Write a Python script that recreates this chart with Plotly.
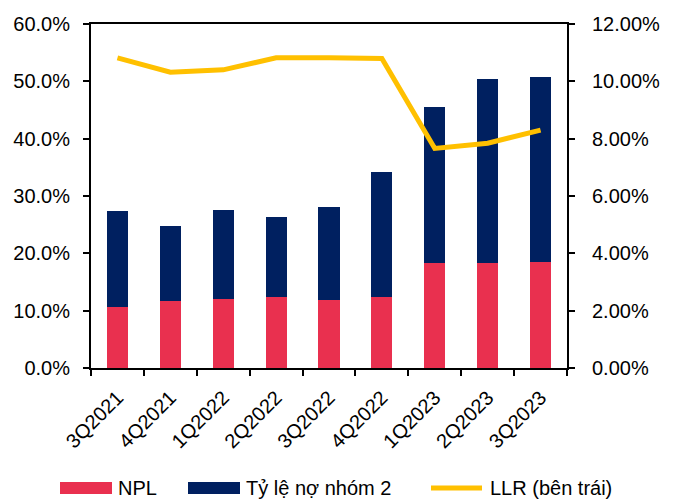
import plotly.graph_objects as go

quarters = ['3Q2021', '4Q2021', '1Q2022', '2Q2022', '3Q2022', '4Q2022', '1Q2023', '2Q2023', '3Q2023']

# right axis (0-12%)
npl = [0.0213, 0.0234, 0.0241, 0.0247, 0.0236, 0.0247, 0.0367, 0.0365, 0.0370]
group2 = [0.0335, 0.0261, 0.0309, 0.0280, 0.0326, 0.0437, 0.0542, 0.0642, 0.0645]
# left axis (0-60%)
llr = [0.541, 0.516, 0.520, 0.541, 0.541, 0.540, 0.383, 0.392, 0.415]

font_name = 'Arial, Liberation Sans, sans-serif'
red, navy, gold = '#E9304F', '#002060', '#FFC000'

# target plot area in page pixels; the page body adds an 8px offset
OFF = 8
L, R, T, B = 91, 567, 24, 368
W, H = 673, 502


def px(x):
    return (x - L) / (R - L)


def py(y):
    return (B - y) / (B - T)


fig = go.Figure()

# bars go on the first y-axis (drawn underneath), shown on the right side
fig.add_trace(go.Bar(x=quarters, y=npl, name='NPL', marker=dict(color=red, line=dict(width=0)),
                     yaxis='y'))
fig.add_trace(go.Bar(x=quarters, y=group2, name='Tỷ lệ nợ nhóm 2', marker=dict(color=navy, line=dict(width=0)),
                     yaxis='y'))
# the LLR line sits on the overlay axis so it is drawn on top, shown on the left side
fig.add_trace(go.Scatter(x=quarters, y=llr, name='LLR (bên trái)', mode='lines',
                         line=dict(color=gold, width=5), yaxis='y2'))

# legend drawn by hand to get the wide Excel-style swatches
legend_items = [
    ('NPL', 'rect', red, 60, 112),
    ('Tỷ lệ nợ nhóm 2', 'rect', navy, 188, 240),
    ('LLR (bên trái)', 'line', gold, 429, 484),
]
ly = 488
for label, kind, color, x0, x1 in legend_items:
    if kind == 'rect':
        fig.add_shape(type='rect', xref='paper', yref='paper',
                      x0=px(x0), x1=px(x1), y0=py(ly - 6), y1=py(ly + 6),
                      fillcolor=color, line=dict(width=0))
    else:
        fig.add_shape(type='line', xref='paper', yref='paper',
                      x0=px(x0 + 2), x1=px(x1 - 2), y0=py(ly), y1=py(ly),
                      line=dict(color=color, width=5))
    fig.add_annotation(text=label, xref='paper', yref='paper', x=px(x1 + 4), y=py(ly),
                       xanchor='left', yanchor='middle', showarrow=False,
                       font=dict(size=20, color='black'))

axis_common = dict(showline=True, linecolor='black', linewidth=2, ticks='outside', ticklen=6,
                   tickwidth=2, tickcolor='black', showgrid=False, zeroline=False, automargin=False)

fig.update_layout(
    width=W - OFF, height=H - OFF,
    margin=dict(l=L - OFF, r=W - R, t=T - OFF, b=H - B, pad=0),
    paper_bgcolor='white', plot_bgcolor='white',
    barmode='stack', bargap=0.6,
    font=dict(family=font_name, size=20, color='black'),
    showlegend=False,
    xaxis=dict(type='category', tickangle=-45, mirror=True, tickson='boundaries',
               ticklabelstandoff=8, **axis_common),
    yaxis=dict(side='right', range=[0, 0.12], dtick=0.02, tickformat='.2%',
               ticklabelstandoff=13, **axis_common),
    yaxis2=dict(side='left', overlaying='y', range=[0, 0.6], dtick=0.1, tickformat='.1%',
                ticklabelstandoff=9, **axis_common),
)

fig.write_html('out.html')
